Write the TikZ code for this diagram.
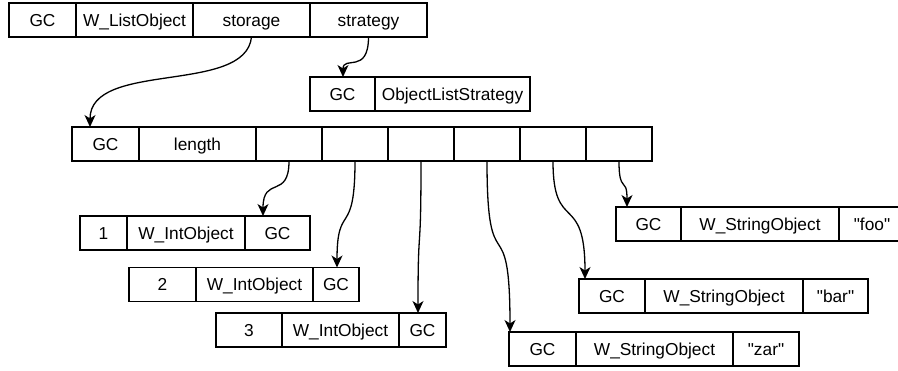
\documentclass[tikz,border=0pt]{standalone}
\usepackage{fontspec}
\setmainfont{Liberation Sans}
\usetikzlibrary{arrows.meta}
\begin{document}
\begin{tikzpicture}[x=1pt,y=-1pt,
  cell/.style={draw, line width=1.3pt, minimum height=34pt, inner sep=0pt,
    outer sep=0pt, anchor=west, text height=13pt, text depth=0pt,
    font=\fontsize{17.3}{20}\selectfont},
  ptr/.style={line width=1.3pt, -{Stealth[length=12pt,width=11pt,inset=3.5pt]}}]
\useasboundingbox (0,0) rectangle (898,371);

% W_ListObject header
\node[cell, minimum width=67pt] (lgc) at (9,20) {GC};
\node[cell, minimum width=117pt] (lcls) at (lgc.east) {W\_ListObject};
\node[cell, minimum width=117pt] (lsto) at (lcls.east) {storage};
\node[cell, minimum width=117pt] (lstr) at (lsto.east) {strategy};

% strategy object
\node[cell, minimum width=65pt] (sgc) at (310,94) {GC};
\node[cell, minimum width=155pt] (scls) at (sgc.east) {ObjectListStrategy};

% storage array
\node[cell, minimum width=67pt] (agc) at (72,144) {GC};
\node[cell, minimum width=117pt] (alen) at (agc.east) {length};
\node[cell, minimum width=66pt] (a1) at (alen.east) {};
\node[cell, minimum width=66pt] (a2) at (a1.east) {};
\node[cell, minimum width=66pt] (a3) at (a2.east) {};
\node[cell, minimum width=66pt] (a4) at (a3.east) {};
\node[cell, minimum width=66pt] (a5) at (a4.east) {};
\node[cell, minimum width=66pt] (a6) at (a5.east) {};

% integer objects
\node[cell, minimum width=47pt] (i1v) at (80,233) {1};
\node[cell, minimum width=118pt] (i1c) at (i1v.east) {W\_IntObject};
\node[cell, minimum width=65pt] (i1g) at (i1c.east) {GC};

\node[cell, minimum width=67pt] (i2v) at (129,284.5) {2};
\node[cell, minimum width=117pt] (i2c) at (i2v.east) {W\_IntObject};
\node[cell, minimum width=46pt] (i2g) at (i2c.east) {GC};

\node[cell, minimum width=66pt] (i3v) at (216,330) {3};
\node[cell, minimum width=117pt] (i3c) at (i3v.east) {W\_IntObject};
\node[cell, minimum width=47pt] (i3g) at (i3c.east) {GC};

% string objects
\node[cell, minimum width=65pt] (fg) at (616,224) {GC};
\node[cell, minimum width=158pt] (fc) at (fg.east) {W\_StringObject};
\node[cell, minimum width=66pt] (fv) at (fc.east) {\textquotedbl foo\textquotedbl};

\node[cell, minimum width=66pt] (bg) at (579,296) {GC};
\node[cell, minimum width=158pt] (bc) at (bg.east) {W\_StringObject};
\node[cell, minimum width=65pt] (bv) at (bc.east) {\textquotedbl bar\textquotedbl};

\node[cell, minimum width=67pt] (zg) at (509,349) {GC};
\node[cell, minimum width=157pt] (zc) at (zg.east) {W\_StringObject};
\node[cell, minimum width=66pt] (zv) at (zc.east) {\textquotedbl zar\textquotedbl};

% pointers
\draw[ptr] (lsto.south) .. controls +(-6,58) and +(0,-67) .. ([xshift=18pt]agc.north west);
\draw[ptr] (lstr.south) .. controls +(0,38) and +(0,-22) .. ([xshift=33pt]sgc.north west);
\draw[ptr] (a1.south) .. controls +(0,39) and +(0,-41) .. ([xshift=18pt]i1g.north west);
\draw[ptr] (a2.south) .. controls +(0,79) and +(0,-67) .. ([xshift=24pt]i2g.north west);
\draw[ptr] (a3.south) .. controls +(0,104) and +(0,-98) .. ([xshift=19pt]i3g.north west);
\draw[ptr] (a4.south) .. controls +(0,129) and +(0,-132) .. ([xshift=1pt]zg.north west);
\draw[ptr] (a5.south) .. controls +(0,74) and +(0,-89) .. ([xshift=6pt]bg.north west);
\draw[ptr] (a6.south) .. controls +(0,34) and +(0,-32) .. ([xshift=11pt]fg.north west);
\end{tikzpicture}
\end{document}
